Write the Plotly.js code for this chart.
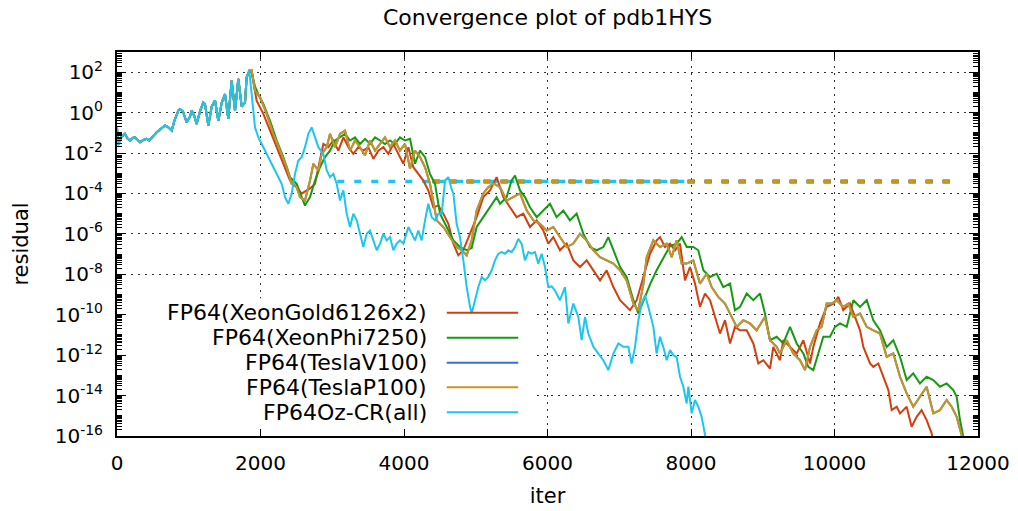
<!DOCTYPE html>
<html>
<head>
<meta charset="utf-8">
<script src="https://cdn.plot.ly/plotly-3.0.1.min.js"></script>
<style>html,body{margin:0;padding:0;background:#fff;}#chart{width:1018px;height:511px;}</style>
</head>
<body>
<div id="chart"></div>
<script>
// ---- data: iteration numbers and log10(residual) ----
const commonIter = [0, 15, 60, 111, 150, 181, 220, 251, 290, 321,
  370, 414, 450, 484, 520, 553, 600, 640, 669, 715,
  762, 800, 855, 878, 920, 971, 1017, 1041, 1080, 1110,
  1160, 1203, 1226, 1273, 1320, 1366, 1412, 1460, 1505, 1551,
  1598, 1645, 1691, 1738, 1784, 1807, 1844];
const commonLog = [-0.75, -1.6, -1.2, -1.05, -1.3, -1.38, -1.25, -1.22, -1.35, -1.46,
  -1.35, -1.3, -1.38, -1.22, -1.1, -0.97, -0.85, -0.75, -0.64, -0.73,
  -0.89, -0.4, 0.1, 0.18, 0.05, -0.48, -0.2, 0.1, -0.2, -0.56,
  0.1, 0.5, 0.43, -0.64, 0.3, 0.6, -0.4, 0.5, 0.92, -0.3,
  1.58, 0.1, 1.67, 0.3, 0.5, 1.75, 2.07];

const goldIter = [1877, 1946, 2040, 2133, 2226, 2318, 2411, 2504, 2574, 2644,
  2713, 2760, 2806, 2876, 2946, 3015, 3085, 3155, 3225, 3294,
  3364, 3433, 3503, 3573, 3642, 3712, 3782, 3852, 3921, 3991,
  4061, 4130, 4200, 4270, 4339, 4409, 4479, 4548, 4618, 4688,
  4757, 4827, 4920, 5013, 5105, 5198, 5291, 5384, 5477, 5570,
  5663, 5756, 5849, 5941, 6011, 6081, 6174, 6267, 6360, 6453,
  6546, 6639, 6732, 6825, 6918, 7011, 7103, 7150, 7243, 7336,
  7429, 7522, 7568, 7638, 7707, 7777, 7847, 7916, 7986, 8056,
  8125, 8195, 8265, 8335, 8404, 8474, 8544, 8613, 8683, 8776,
  8869, 8938, 9008, 9101, 9147, 9240, 9286, 9380, 9473, 9566,
  9659, 9705, 9798, 9891, 9984, 10053, 10123, 10216, 10286, 10356,
  10402, 10495, 10541, 10611, 10681, 10751, 10797, 10867, 10913, 11006,
  11075, 11145, 11214, 11284, 11354, 11380];
const goldLog = [2.0, 0.59, -0.06, -0.89, -1.71, -2.53, -3.36, -3.69, -4.01, -3.85,
  -3.69, -3.52, -2.70, -1.55, -1.71, -1.38, -1.88, -1.22, -1.71, -2.04,
  -1.71, -1.88, -1.71, -2.29, -1.88, -1.71, -2.04, -1.55, -2.04, -2.53,
  -1.71, -2.70, -3.03, -3.36, -3.85, -4.68, -4.60, -5.00, -5.50, -6.48,
  -7.06, -6.80, -5.99, -5.17, -4.18, -3.85, -3.19, -4.18, -4.68, -5.17,
  -5.00, -5.66, -5.33, -5.83, -6.48, -6.16, -6.81, -6.48, -7.31, -7.64,
  -7.31, -7.80, -8.30, -7.80, -8.63, -9.28, -9.61, -9.78, -9.28, -8.13,
  -6.98, -6.32, -6.16, -6.65, -6.48, -6.81, -6.48, -8.30, -7.64, -8.46,
  -9.61, -8.95, -9.28, -10.10, -10.93, -10.27, -11.42, -10.60, -10.77, -10.77,
  -11.42, -12.41, -12.25, -12.66, -11.59, -12.25, -11.26, -11.59, -11.92, -11.26,
  -12.41, -11.59, -10.43, -9.61, -9.45, -9.12, -9.78, -9.45, -10.10, -10.77,
  -11.59, -12.41, -12.58, -12.41, -13.07, -13.73, -14.72, -14.55, -14.88, -14.55,
  -15.54, -15.05, -14.72, -15.21, -15.87, -16.30];

const phiIter = [1877, 1923, 1970, 2040, 2133, 2226, 2318, 2411, 2504, 2574,
  2620, 2690, 2760, 2829, 2899, 2969, 3039, 3108, 3178, 3248,
  3317, 3387, 3457, 3526, 3596, 3666, 3735, 3805, 3875, 3944,
  4014, 4084, 4153, 4223, 4293, 4362, 4432, 4502, 4595, 4688,
  4780, 4874, 4943, 5013, 5105, 5198, 5291, 5338, 5430, 5500,
  5547, 5617, 5686, 5756, 5849, 5941, 6034, 6127, 6220, 6313,
  6406, 6499, 6592, 6685, 6778, 6848, 6918, 7011, 7103, 7197,
  7266, 7336, 7429, 7521, 7614, 7707, 7800, 7870, 7940, 8032,
  8102, 8172, 8265, 8358, 8450, 8544, 8613, 8683, 8776, 8869,
  8962, 9031, 9101, 9194, 9286, 9380, 9473, 9566, 9635, 9705,
  9774, 9844, 9937, 10007, 10077, 10170, 10263, 10356, 10449, 10541,
  10634, 10727, 10820, 10913, 11006, 11098, 11191, 11284, 11377, 11470,
  11563, 11656, 11703, 11749, 11786, 11800];
const phiLog = [2.0, 1.3, 0.9, 0.43, -0.40, -1.38, -2.20, -3.19, -3.52, -4.18,
  -4.60, -4.18, -3.36, -2.70, -2.20, -1.88, -1.38, -1.22, -1.05, -1.38,
  -1.22, -1.55, -1.30, -1.55, -1.22, -1.38, -1.55, -1.38, -1.55, -1.22,
  -1.38, -1.30, -2.53, -1.88, -2.20, -3.03, -3.52, -5.00, -5.66, -6.32,
  -6.65, -6.81, -6.70, -5.66, -5.17, -4.68, -4.18, -4.51, -4.18, -3.36,
  -3.11, -3.85, -4.18, -4.68, -5.17, -4.84, -4.51, -5.17, -4.84, -5.33,
  -5.00, -5.99, -6.65, -6.81, -6.65, -6.16, -6.81, -7.64, -8.13, -9.28,
  -9.94, -9.28, -8.50, -7.80, -7.20, -6.60, -6.48, -6.16, -6.65, -6.65,
  -6.81, -7.80, -8.13, -7.97, -8.63, -8.46, -9.78, -9.61, -8.95, -9.28,
  -8.95, -9.94, -11.26, -11.09, -11.42, -10.60, -11.42, -11.92, -12.58, -12.74,
  -11.92, -11.09, -11.09, -10.60, -10.43, -10.60, -9.28, -9.61, -9.28, -10.27,
  -10.77, -11.59, -11.26, -12.08, -13.23, -12.90, -13.40, -13.07, -13.23, -13.56,
  -13.40, -13.73, -14.06, -15.21, -15.87, -16.20];

const p100Iter = [1877, 1923, 1993, 2086, 2179, 2272, 2365, 2434, 2504, 2551,
  2620, 2690, 2737, 2806, 2853, 2923, 2969, 3039, 3108, 3178,
  3248, 3317, 3387, 3457, 3526, 3596, 3666, 3735, 3805, 3875,
  3944, 4014, 4084, 4153, 4223, 4293, 4362, 4456, 4548, 4641,
  4734, 4804, 4874, 4943, 5013, 5105, 5175, 5245, 5338, 5430,
  5523, 5617, 5710, 5803, 5896, 5989, 6081, 6174, 6267, 6360,
  6453, 6546, 6639, 6732, 6825, 6918, 7011, 7103, 7197, 7266,
  7336, 7382, 7475, 7568, 7661, 7731, 7800, 7870, 7940, 8032,
  8125, 8219, 8288, 8380, 8474, 8567, 8637, 8729, 8822, 8915,
  9030, 9101, 9194, 9240, 9333, 9426, 9519, 9589, 9659, 9752,
  9821, 9891, 9961, 10031, 10123, 10193, 10263, 10356, 10449, 10541,
  10634, 10727, 10820, 10913, 11006, 11098, 11191, 11284, 11377, 11470,
  11563, 11633, 11703, 11772, 11790];
const p100Log = [2.10, 1.09, 0.76, -0.06, -1.05, -1.88, -2.70, -3.52, -3.69, -4.18,
  -4.35, -3.36, -2.53, -2.86, -2.04, -1.71, -1.05, -1.71, -1.05, -0.89,
  -1.88, -1.38, -1.71, -2.12, -1.38, -1.88, -1.55, -1.22, -1.71, -1.38,
  -1.88, -1.55, -2.78, -1.88, -2.20, -2.70, -3.50, -5.33, -5.66, -6.16,
  -6.65, -6.81, -7.06, -6.32, -4.84, -4.00, -3.69, -3.50, -3.69, -4.35,
  -4.18, -4.00, -4.84, -5.33, -5.50, -5.83, -5.66, -6.16, -6.65, -6.48,
  -5.99, -6.32, -6.81, -7.15, -7.31, -7.47, -7.80, -8.30, -9.45, -9.78,
  -8.50, -7.15, -6.32, -6.65, -6.48, -7.15, -6.32, -7.47, -7.47, -7.31,
  -8.46, -7.97, -8.63, -9.12, -9.45, -10.11, -10.60, -10.27, -10.43, -10.77,
  -10.11, -11.26, -11.59, -11.92, -11.26, -11.92, -12.25, -12.74, -11.59, -10.77,
  -10.60, -9.45, -9.45, -9.28, -9.61, -9.45, -10.11, -9.94, -10.60, -10.77,
  -10.93, -12.08, -11.92, -13.07, -13.89, -14.55, -14.06, -13.56, -14.88, -14.72,
  -14.22, -14.55, -15.05, -15.87, -16.20];

const ozIter = [1877, 1923, 1970, 2017, 2086, 2156, 2226, 2295, 2342, 2388,
  2434, 2481, 2527, 2574, 2620, 2667, 2713, 2760, 2806, 2876,
  2923, 2969, 3015, 3062, 3108, 3155, 3201, 3248, 3294, 3341,
  3387, 3433, 3480, 3526, 3573, 3620, 3666, 3712, 3758, 3805,
  3852, 3898, 3944, 3991, 4061, 4107, 4153, 4200, 4246, 4293,
  4339, 4386, 4432, 4479, 4525, 4572, 4618, 4665, 4688, 4734,
  4780, 4827, 4874, 4920, 4943, 4990, 5036, 5083, 5129, 5175,
  5222, 5268, 5315, 5361, 5408, 5454, 5500, 5547, 5593, 5640,
  5686, 5733, 5779, 5826, 5872, 5919, 5965, 6011, 6058, 6104,
  6174, 6244, 6290, 6360, 6430, 6476, 6523, 6569, 6639, 6709,
  6778, 6848, 6918, 6987, 7057, 7126, 7173, 7220, 7266, 7312,
  7359, 7405, 7475, 7521, 7568, 7614, 7661, 7707, 7754, 7800,
  7847, 7893, 7940, 7963, 8009, 8056, 8102, 8148, 8195, 8215];
const ozLog = [0.92, -0.73, -1.22, -1.55, -2.04, -2.53, -3.03, -3.52, -4.18, -4.51,
  -4.01, -3.03, -2.37, -2.20, -1.71, -1.05, -0.73, -1.22, -1.71, -2.04,
  -2.86, -3.19, -3.03, -3.52, -4.35, -3.85, -5.00, -5.66, -5.00, -5.33,
  -5.99, -6.65, -5.99, -5.83, -6.32, -6.81, -6.48, -5.99, -6.32, -6.16,
  -6.81, -6.48, -6.32, -6.48, -5.66, -5.99, -6.32, -5.83, -6.32, -5.33,
  -4.51, -5.17, -5.33, -5.00, -5.00, -3.36, -3.19, -3.80, -4.00, -5.50,
  -6.16, -7.31, -8.63, -9.61, -9.94, -9.28, -8.63, -8.13, -8.30, -8.13,
  -7.80, -7.31, -6.98, -6.90, -6.98, -6.81, -6.90, -6.65, -6.24, -6.50,
  -7.31, -6.90, -6.98, -6.90, -7.47, -6.98, -7.64, -8.63, -8.60, -8.80,
  -9.28, -8.63, -10.43, -9.45, -10.11, -11.26, -10.11, -10.93, -11.59, -11.92,
  -12.25, -12.74, -11.92, -11.42, -11.59, -11.59, -12.41, -11.59, -10.27, -9.45,
  -9.04, -9.61, -10.60, -11.92, -11.09, -11.60, -12.25, -11.75, -12.00, -12.10,
  -13.07, -13.56, -14.39, -13.56, -14.88, -14.22, -14.55, -15.05, -15.87, -16.30];

// dashed constant level
const dashGpuIter = [4400, 11700];
const dashOzIter = [3070, 8000];
const dashLog = [-3.41, -3.41];

const seriesNames = ['FP64(XeonGold6126x2)', 'FP64(XeonPhi7250)', 'FP64(TeslaV100)', 'FP64(TeslaP100)', 'FP64Oz-CR(all)'];
const seriesColors = ['#d2400f', '#169a12', '#3a6ed6', '#c9961c', '#1cc6f0'];

const yTickVals = [1e2, 1e0, 1e-2, 1e-4, 1e-6, 1e-8, 1e-10, 1e-12, 1e-14, 1e-16];
const yTickText = ['10<sup>2</sup>', '10<sup>0</sup>', '10<sup>-2</sup>', '10<sup>-4</sup>', '10<sup>-6</sup>',
  '10<sup>-8</sup>', '10<sup>-10</sup>', '10<sup>-12</sup>', '10<sup>-14</sup>', '10<sup>-16</sup>'];
const xTickVals = [0, 2000, 4000, 6000, 8000, 10000, 12000];
const xTickText = ['0', '2000', '4000', '6000', '8000', '10000', '12000'];

// minor log ticks (1..9 x 10^n)
const yMinorVals = [];
for (let n = -16; n <= 2; n++) for (let k = 1; k <= 9; k++) yMinorVals.push(k * Math.pow(10, n));

// ---- build traces ----
const toRes = arr => arr.map(v => Math.pow(10, v));
const seriesIters = [goldIter, phiIter, p100Iter, p100Iter, ozIter];
const seriesLogs = [goldLog, phiLog, p100Log, p100Log, ozLog];

const traces = [];
for (let i = 0; i < 4; i++) {
  traces.push({x: dashGpuIter, y: toRes(dashLog), mode: 'lines', hoverinfo: 'skip',
    line: {color: seriesColors[i], width: 3.5, dash: '7px,10px'}, showlegend: false});
}
traces.push({x: dashOzIter, y: toRes(dashLog), mode: 'lines', hoverinfo: 'skip',
  line: {color: seriesColors[4], width: 3.5, dash: '7px,10px'}, showlegend: false});

for (let i = 0; i < 5; i++) {
  traces.push({
    x: commonIter.concat(seriesIters[i]),
    y: toRes(commonLog.concat(seriesLogs[i])),
    name: seriesNames[i], mode: 'lines',
    line: {color: seriesColors[i], width: 2},
    showlegend: false
  });
}

// ---- custom legend (text right-aligned, sample line on the right) ----
const legendRowY = [0.321, 0.256, 0.191, 0.127, 0.062];
const annotations = seriesNames.map((n, i) => ({
  text: n, xref: 'paper', yref: 'paper', x: 0.362, y: legendRowY[i],
  xanchor: 'right', yanchor: 'middle', showarrow: false,
  font: {size: 22, color: '#000'}
}));
const shapes = [];
seriesNames.forEach((n, i) => shapes.push({type: 'line', xref: 'paper', yref: 'paper',
  x0: 0.383, x1: 0.466, y0: legendRowY[i], y1: legendRowY[i],
  line: {color: seriesColors[i], width: 2}}));
// opaque legend background (between grid and traces)
shapes.push({type: 'rect', xref: 'x', yref: 'y', x0: 15, x1: 5784, y0: 1.1e-16, y1: 6.5e-10,
  fillcolor: '#ffffff', line: {width: 0}, layer: 'between'});

const axisCommon = {
  showline: true, linecolor: '#000', linewidth: 2, mirror: 'allticks',
  ticks: 'inside', tickcolor: '#000', tickwidth: 1,
  showgrid: true, gridcolor: '#333', gridwidth: 1, griddash: '2px,5px',
  zeroline: false, tickfont: {size: 20, color: '#000'}
};

const layout = {
  width: 1018, height: 511,
  margin: {l: 117, r: 40, t: 52, b: 75},
  paper_bgcolor: '#fff', plot_bgcolor: '#fff',
  font: {family: '"DejaVu Sans", sans-serif', color: '#000', size: 20},
  title: {text: 'Convergence plot of pdb1HYS', x: 0.5, xref: 'paper', xanchor: 'center',
    y: 1 - 17 / 511, yref: 'container', yanchor: 'middle', font: {size: 22, color: '#000'}},
  showlegend: false,
  xaxis: Object.assign({}, axisCommon, {
    range: [0, 12000], tickmode: 'array', tickvals: xTickVals, ticktext: xTickText, ticklen: 7,
    ticklabelstandoff: 8,
    title: {text: 'iter', font: {size: 21, color: '#000'}, standoff: 14}
  }),
  yaxis: Object.assign({}, axisCommon, {
    type: 'log', range: [-16, 3], tickmode: 'array', tickvals: yTickVals, ticktext: yTickText, ticklen: 9,
    ticklabelstandoff: 8,
    minor: {tickmode: 'array', tickvals: yMinorVals, ticks: 'inside', ticklen: 5, tickcolor: '#000', tickwidth: 1, showgrid: false},
    title: {text: 'residual', font: {size: 21, color: '#000'}, standoff: 20}
  }),
  annotations: annotations,
  shapes: shapes
};

Plotly.newPlot('chart', traces, layout, {displayModeBar: false, staticPlot: true});
</script>
</body>
</html>
